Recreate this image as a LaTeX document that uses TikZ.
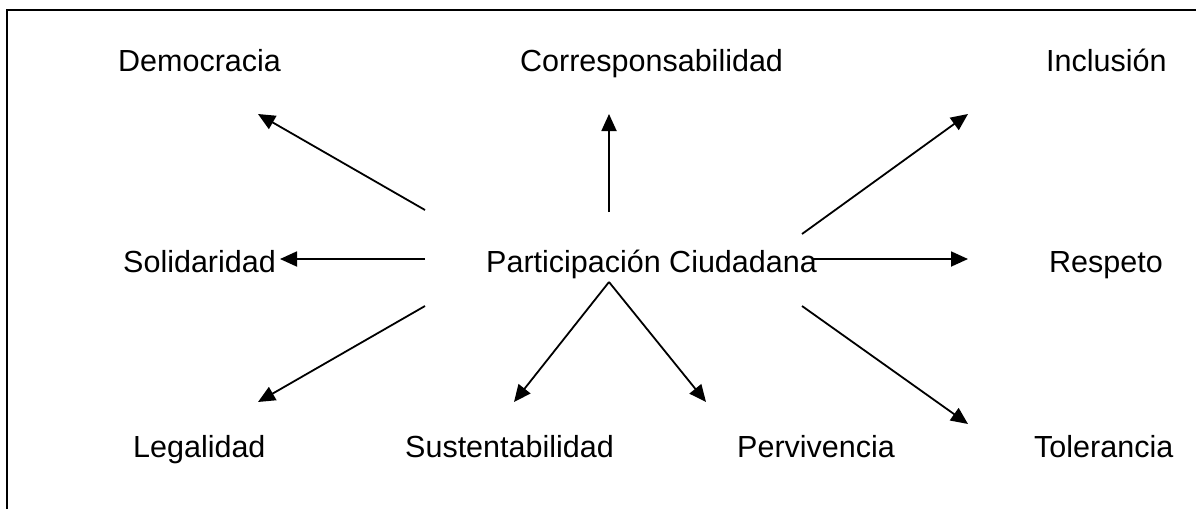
\documentclass[tikz,border=0pt]{standalone}
\usepackage{fontspec}
\setmainfont{Liberation Sans}
\usetikzlibrary{arrows.meta}
\begin{document}
\begin{tikzpicture}[x=1pt,y=-1pt,
  lbl/.style={anchor=base west,inner sep=0pt,font=\fontsize{30.5}{36}\selectfont},
  arr/.style={line width=1.8pt,-{Triangle[length=17pt,width=15pt]}},
  frameline/.style={line width=2.5pt}]
\useasboundingbox (0,0) rectangle (1196,509);
% frame
\coordinate (f1) at (7,509);
\coordinate (f2) at (7,10);
\coordinate (f3) at (1196,10);
\draw[frameline] (f1) -- (f2) -- (f3);
% labels
\node[lbl] (dem) at (118,71) {Democracia};
\node[lbl] (cor) at (520,71) {Corresponsabilidad};
\node[lbl] (inc) at (1046,71) {Inclusión};
\node[lbl] (sol) at (123,272) {Solidaridad};
\node[lbl] (pc)  at (486,272) {Participación Ciudadana};
\node[lbl] (res) at (1049,272) {Respeto};
\node[lbl] (leg) at (133,457) {Legalidad};
\node[lbl] (sus) at (405,457) {Sustentabilidad};
\node[lbl] (per) at (737,457) {Pervivencia};
\node[lbl] (tol) at (1034,457) {Tolerancia};
% arrow endpoints
\coordinate (sDem) at (425,210);  \coordinate (eDem) at (258,114);
\coordinate (sSol) at (425,259);  \coordinate (eSol) at (280,259);
\coordinate (sLeg) at (425,306);  \coordinate (eLeg) at (258,402);
\coordinate (sCor) at (609,212);  \coordinate (eCor) at (609,114);
\coordinate (sInc) at (802,234);  \coordinate (eInc) at (968,114);
\coordinate (sRes) at (812,259);  \coordinate (eRes) at (968,259);
\coordinate (sTol) at (802,306);  \coordinate (eTol) at (968,424);
\coordinate (apex) at (609,282);
\coordinate (eSus) at (514,402);
\coordinate (ePer) at (706,402);
% arrows
\draw[arr] (sDem) -- (eDem);
\draw[arr] (sSol) -- (eSol);
\draw[arr] (sLeg) -- (eLeg);
\draw[arr] (sCor) -- (eCor);
\draw[arr] (sInc) -- (eInc);
\draw[arr] (sRes) -- (eRes);
\draw[arr] (sTol) -- (eTol);
\draw[arr] (apex) -- (eSus);
\draw[arr] (apex) -- (ePer);
\end{tikzpicture}
\end{document}
